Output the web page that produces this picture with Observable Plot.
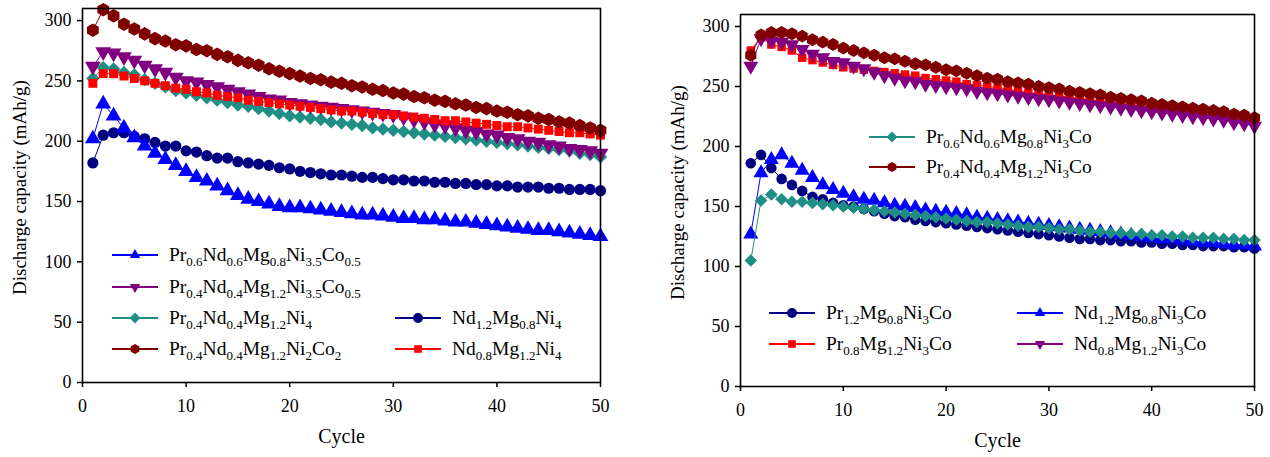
<!DOCTYPE html>
<html>
<head>
<meta charset="utf-8">
<script src="https://cdn.jsdelivr.net/npm/d3@7"></script>
<script src="https://cdn.jsdelivr.net/npm/@observablehq/plot@0.6"></script>
<style>
  html, body { margin: 0; padding: 0; background: #fff; }
  #wrap { display: flex; width: 1270px; height: 457px; }
  svg { font-family: "Liberation Serif", "DejaVu Serif", serif; }
</style>
</head>
<body>
<div id="wrap"></div>
<script>
// ---------------- DATA ----------------
const cycles = d3.range(1, 51);
const xTicks = [0, 10, 20, 30, 40, 50];
const yTicks = [0, 50, 100, 150, 200, 250, 300];
const xLabel = "Cycle";
const yLabel = "Discharge capacity (mAh/g)";

// Left panel
const leftNames = [
  "Pr0.6Nd0.6Mg0.8Ni3.5Co0.5",
  "Pr0.4Nd0.4Mg1.2Ni3.5Co0.5",
  "Pr0.4Nd0.4Mg1.2Ni4",
  "Pr0.4Nd0.4Mg1.2Ni2Co2",
  "Nd1.2Mg0.8Ni4",
  "Nd0.8Mg1.2Ni4"
];
const L_PrNd06_Co05 = [202,231,221,211,203,196,190,185,180,175,170,167,163,159,155,152,150,148,146,145,
  145,144,143,142,141,140,139,139,138,137,136,136,135,135,134,133,133,132,131,130,
  129,128,127,126,126,125,124,123,122,121];
const L_PrNd04_Co05 = [262,274,273,270,267,263,260,257,253,250,249,247,245,243,241,239,237,235,234,232,
  231,230,229,228,227,226,225,224,223,222,220,218,216,214,213,211,209,208,206,205,
  203,202,200,199,197,196,194,193,192,190];
const L_PrNd04_Ni4 = [252,261,260,257,255,251,248,245,242,240,238,236,234,232,230,229,227,225,223,221,
  220,219,218,216,215,214,213,211,210,209,208,207,206,205,204,203,202,201,200,199,
  198,197,196,195,194,193,192,190,189,187];
const L_PrNd04_Co2 = [292,309,304,297,293,289,285,283,280,279,276,275,272,270,267,265,263,260,258,256,
  254,252,251,249,248,246,245,243,242,240,239,237,236,234,233,231,230,228,227,225,
  224,222,221,219,218,216,215,213,211,209];
const L_Nd12_Ni4 = [182,205,207,207,204,202,199,196,196,192,191,188,186,186,183,182,181,180,178,177,
  175,174,173,172,172,171,170,170,169,168,168,167,167,166,166,165,165,164,164,163,
  163,162,162,162,161,161,160,160,160,159];
const L_Nd08_Ni4 = [248,256,256,254,252,250,248,246,244,243,241,240,238,237,236,234,233,232,231,230,
  229,228,227,226,225,225,224,223,222,222,221,220,219,218,217,217,216,215,214,213,
  212,212,211,210,209,208,207,207,206,205];

// Right panel
const rightNames = [
  "Pr0.6Nd0.6Mg0.8Ni3Co",
  "Pr0.4Nd0.4Mg1.2Ni3Co",
  "Pr1.2Mg0.8Ni3Co",
  "Pr0.8Mg1.2Ni3Co",
  "Nd1.2Mg0.8Ni3Co",
  "Nd0.8Mg1.2Ni3Co"
];
const R_PrNd06 = [105,155,160,156,154,154,153,152,151,150,149,148,147,146,145,144,143,142,141,140,
  139,138,137,137,136,135,134,133,133,132,131,131,130,129,129,128,128,127,127,126,
  126,125,125,124,124,124,123,123,122,122];
const R_PrNd04 = [276,293,295,295,294,292,289,287,285,282,280,278,276,274,273,271,269,268,266,264,
  263,261,259,257,256,254,253,252,250,249,248,246,245,244,243,241,240,239,238,236,
  235,234,233,232,231,230,229,227,226,224];
const R_Pr12 = [186,193,182,173,168,163,158,156,153,151,150,148,146,144,142,141,139,138,137,136,
  135,134,133,132,131,130,129,128,127,126,125,124,123,123,122,122,121,121,120,120,
  119,119,118,118,117,117,117,116,116,115];
const R_Pr08 = [280,291,285,283,280,274,272,270,268,266,265,264,263,262,261,260,259,257,256,255,
  254,252,251,250,249,248,246,245,244,243,242,241,240,239,238,237,236,235,234,233,
  232,231,230,229,227,226,225,223,222,220];
const R_Nd12 = [127,178,189,193,186,180,174,168,164,161,158,156,155,153,151,150,149,147,146,145,
  144,143,141,140,139,138,137,136,135,134,133,132,131,130,129,128,127,126,125,124,
  123,123,122,121,120,120,119,118,118,117];
const R_Nd08 = [267,290,288,287,285,281,277,274,271,270,267,265,262,259,257,255,254,252,251,250,
  249,248,246,245,244,243,242,241,240,239,238,237,236,235,234,233,232,231,230,229,
  228,227,226,225,224,223,222,220,219,217];

// ---------------- STYLE ----------------
const C = {
  blue: "#0000ff", purple: "#800080", teal: "#1f8f85",
  darkred: "#800000", navy: "#000080", red: "#ff0000"
};

function rows(values) { return cycles.map((c, i) => ({cycle: c, cap: values[i]})); }

function seriesMarks(values, color, shape, r) {
  const data = rows(values);
  let dotOpts = {x: "cycle", y: "cap", fill: color, r, stroke: "none"};
  if (shape === "down") Object.assign(dotOpts, {symbol: "triangle", rotate: 180, r: r * 1.05});
  else if (shape === "up") Object.assign(dotOpts, {symbol: "triangle", r: r * 1.05});
  else if (shape === "diamond") Object.assign(dotOpts, {symbol: "square", rotate: 45, r: r * 0.95});
  else if (shape === "square") Object.assign(dotOpts, {symbol: "square", r: r * 0.9});
  else if (shape === "hex") Object.assign(dotOpts, {symbol: "hexagon", r: r * 1.05});
  else Object.assign(dotOpts, {symbol: "circle"});
  return [
    Plot.line(data, {x: "cycle", y: "cap", stroke: color, strokeWidth: 1}),
    Plot.dot(data, dotOpts)
  ];
}

function makePanel(opts) {
  const marks = [];
  for (const s of opts.series) marks.push(...seriesMarks(s.values, s.color, s.shape, opts.r));
  return Plot.plot({
    width: 635, height: 457,
    marginLeft: opts.ml, marginRight: opts.mr, marginTop: opts.mt, marginBottom: opts.mb,
    style: {fontFamily: "Liberation Serif", fontSize: "18px", color: "#000", background: "#fff"},
    x: {domain: [0, 50]},
    y: {domain: [0, 310]},
    marks: [
      Plot.axisX({ticks: xTicks, tickSize: 5, tickPadding: 12, label: null, fontSize: 18, strokeWidth: 1.5}),
      Plot.axisY({ticks: yTicks, tickSize: 5, tickPadding: 6, label: null, fontSize: 18, strokeWidth: 1.5}),
      ...marks,
      Plot.frame({stroke: "#000", strokeWidth: 1.6}),
      Plot.text([xLabel], {frameAnchor: "bottom", dy: 60, fontSize: 20, fill: "#000", textAnchor: "middle"}),
      Plot.text([yLabel], {frameAnchor: "left", dx: opts.ylabDx, dy: -8, rotate: -90, fontSize: 19, fill: "#000", textAnchor: "middle"})
    ]
  });
}

// Legend drawn into the svg (pixel layout only)
function symbolPath(shape, size) {
  if (shape === "hex") {
    const r = size;
    const pts = d3.range(6).map(i => [r * Math.cos(Math.PI / 6 + i * Math.PI / 3), r * Math.sin(Math.PI / 6 + i * Math.PI / 3)]);
    return "M" + pts.map(p => p.join(",")).join("L") + "Z";
  }
  const area = Math.PI * size * size;
  const t = {up: d3.symbolTriangle, down: d3.symbolTriangle, diamond: d3.symbolSquare, square: d3.symbolSquare, circle: d3.symbolCircle}[shape];
  const k = shape === "square" ? 0.75 : (shape === "up" || shape === "down") ? 0.6 : shape === "diamond" ? 0.75 : 1;
  return d3.symbol(t, area * k)();
}

function addLegend(svg, items) {
  const g = d3.select(svg).append("g").attr("class", "legend").attr("text-anchor", "start");
  for (const it of items) {
    const gi = g.append("g").attr("transform", `translate(${it.x},${it.y})`);
    gi.append("line").attr("x1", 0).attr("x2", 46).attr("y1", 0).attr("y2", 0)
      .attr("stroke", it.color).attr("stroke-width", 2);
    let rot = it.shape === "down" ? 180 : it.shape === "diamond" ? 45 : 0;
    gi.append("path").attr("d", symbolPath(it.shape, 5))
      .attr("transform", `translate(23,0) rotate(${rot})`).attr("fill", it.color);
    const txt = gi.append("text").attr("x", 57).attr("y", 6).attr("text-anchor", "start")
      .attr("font-size", 19).attr("fill", "#000");
    const parts = [...it.label.matchAll(/([A-Z][a-z]?)([\d.]*)/g)];
    let shifted = false;
    for (const p of parts) {
      txt.append("tspan").text(p[1]).attr("dy", shifted ? -5 : null).attr("font-size", 19.5);
      shifted = false;
      if (p[2]) {
        txt.append("tspan").text(p[2]).attr("dy", 5).attr("font-size", 13);
        shifted = true;
      }
    }
  }
}

const wrap = document.getElementById("wrap");

const left = makePanel({
  ml: 82, mr: 35, mt: 8, mb: 75, r: 5.6, ylabDx: -63,
  series: [
    {values: L_PrNd04_Ni4, color: C.teal, shape: "diamond"},
    {values: L_PrNd04_Co05, color: C.purple, shape: "down"},
    {values: L_Nd08_Ni4, color: C.red, shape: "square"},
    {values: L_Nd12_Ni4, color: C.navy, shape: "circle"},
    {values: L_PrNd06_Co05, color: C.blue, shape: "up"},
    {values: L_PrNd04_Co2, color: C.darkred, shape: "hex"}
  ]
});
addLegend(left, [
  {x: 112, y: 255, color: C.blue, shape: "up", label: leftNames[0]},
  {x: 112, y: 287, color: C.purple, shape: "down", label: leftNames[1]},
  {x: 112, y: 318, color: C.teal, shape: "diamond", label: leftNames[2]},
  {x: 112, y: 349, color: C.darkred, shape: "hex", label: leftNames[3]},
  {x: 395, y: 318, color: C.navy, shape: "circle", label: leftNames[4]},
  {x: 395, y: 349, color: C.red, shape: "square", label: leftNames[5]}
]);
wrap.appendChild(left);

const right = makePanel({
  ml: 105, mr: 16, mt: 14, mb: 71, r: 5.3, ylabDx: -63,
  series: [
    {values: R_Pr12, color: C.navy, shape: "circle"},
    {values: R_Nd12, color: C.blue, shape: "up"},
    {values: R_PrNd06, color: C.teal, shape: "diamond"},
    {values: R_Pr08, color: C.red, shape: "square"},
    {values: R_Nd08, color: C.purple, shape: "down"},
    {values: R_PrNd04, color: C.darkred, shape: "hex"}
  ]
});
addLegend(right, [
  {x: 869 - 635, y: 137, color: C.teal, shape: "diamond", label: rightNames[0]},
  {x: 869 - 635, y: 167, color: C.darkred, shape: "hex", label: rightNames[1]},
  {x: 769 - 635, y: 313, color: C.navy, shape: "circle", label: rightNames[2]},
  {x: 769 - 635, y: 344, color: C.red, shape: "square", label: rightNames[3]},
  {x: 1017 - 635, y: 313, color: C.blue, shape: "up", label: rightNames[4]},
  {x: 1017 - 635, y: 344, color: C.purple, shape: "down", label: rightNames[5]}
]);
wrap.appendChild(right);
</script>
</body>
</html>
